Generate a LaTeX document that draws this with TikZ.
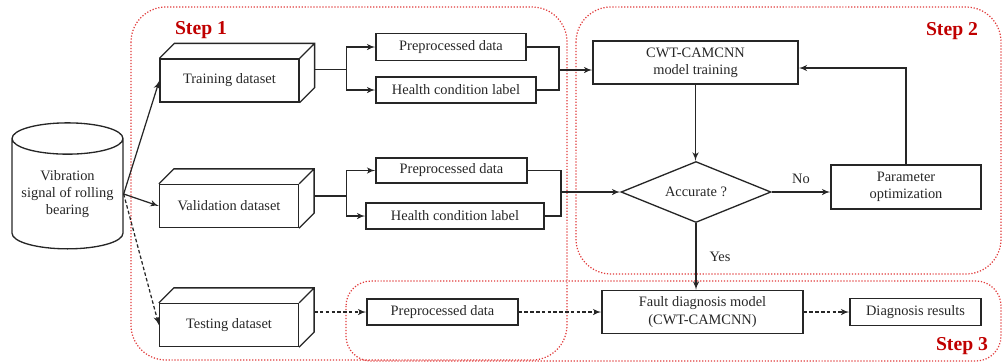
\documentclass[tikz,border=0pt]{standalone}
\usepackage{fontspec}
\setmainfont{Liberation Serif}
\usetikzlibrary{arrows}
\usetikzlibrary{shapes.geometric}
\usetikzlibrary{calc}
\definecolor{stepred}{RGB}{192,0,0}
\definecolor{regred}{RGB}{225,60,60}

\begin{document}
\begin{tikzpicture}[x=0.02cm,y=-0.02cm]
      \tikzset{
        >=latex',
        every node/.style={font=\fontsize{8.2}{9.8}\selectfont, text=black!85, align=center},
        line/.style={line width=0.7pt, draw=black!85},
        box/.style={rectangle, draw=black!85, line width=0.75pt, inner sep=0pt},
        cube/.style={box, minimum width=2.78cm, minimum height=0.86cm},
        region/.style={draw=regred, densely dotted, line width=0.7pt},
        steplabel/.style={font=\fontsize{11.2}{13}\selectfont\bfseries, text=stepred},
        dsh/.style={dash pattern=on 2pt off 1.3pt},
      }
      \useasboundingbox (0,0) rectangle (1003,363);

      \draw[region, rounded corners=0.7cm] (131,7) rectangle (567,360);
      \draw[region, rounded corners=0.7cm] (576,7) rectangle (1001,274);
      \draw[region, rounded corners=0.5cm] (346,281) rectangle (1001,361);
      \node[steplabel] (s1) at (201,30) {Step 1};
      \node[steplabel] (s2) at (952,31) {Step 2};
      \node[steplabel] (s3) at (962,346) {Step 3};

      \node[cylinder, shape border rotate=90, aspect=0.34, draw=black!85, line width=0.75pt,
        minimum width=2.22cm, minimum height=2.52cm, inner sep=0pt] (sig) at (67.5,194)
        {Vibration\\signal of rolling\\bearing};

      \node[cube] (trn) at (229.5,80.5) {Training dataset};
      \node[cube] (val) at (229,206) {Validation dataset};
      \node[cube] (tst) at (229,325) {Testing dataset};
      \foreach \c in {trn,val,tst}
        \draw[line, line width=0.75pt] (\c.north west) -- ++(15,-15) -| ($(\c.south east)+(15,-15)$) -- (\c.south east)
          (\c.north east) -- ++(15,-15);

      \node[box, minimum width=3.0cm, minimum height=0.54cm] (pre1) at (451,47) {Preprocessed data};
      \node[box, minimum width=3.2cm, minimum height=0.52cm] (hcl1) at (456,90) {Health condition label};
      \node[box, minimum width=3.02cm, minimum height=0.5cm] (pre2) at (451.5,170.5) {Preprocessed data};
      \node[box, minimum width=3.56cm, minimum height=0.52cm] (hcl2) at (455,216) {Health condition label};
      \node[box, minimum width=3.02cm, minimum height=0.52cm] (pre3) at (442.5,312) {Preprocessed data};

      \node[box, minimum width=4.1cm, minimum height=0.86cm] (cwt) at (695.5,62.5) {CWT-CAMCNN\\model training};
      \node[diamond, draw=black!85, line width=0.75pt, inner sep=0pt, aspect=2.46,
        minimum width=3.0cm, minimum height=1.22cm] (acc) at (696,192) {Accurate ?};
      \node[box, minimum width=3.0cm, minimum height=0.88cm] (par) at (906,187) {Parameter\\optimization};
      \node[box, minimum width=4.02cm, minimum height=0.86cm] (fdm) at (702.5,312) {Fault diagnosis model\\(CWT-CAMCNN)};
      \node[box, minimum width=2.62cm, minimum height=0.54cm] (res) at (915.5,312) {Diagnosis results};

      \coordinate (m1) at (559,70);
      \coordinate (m2) at (561,192);

      \draw[line, ->] (sig.east) -- (trn.west);
      \draw[line, ->] (sig.east) -- (val.west);
      \draw[line, dsh, ->] (sig.east) -- (tst.west);

      \draw[line] (trn.east) ++(15,-11) -- ++(32,0) coordinate (t1);
      \draw[line, ->] (t1) |- (pre1.west);
      \draw[line, ->] (t1) |- (hcl1.west);
      \draw[line] (pre1.east) -| (m1) |- (hcl1.east);
      \draw[line, ->] (m1) -- (m1 -| cwt.west);

      \draw[line] (val.east) ++(15,-10) -- ++(32,0) coordinate (t2);
      \draw[line, ->] (t2) |- (pre2.west);
      \draw[line, ->] (t2) |- (hcl2.west);
      \draw[line] (pre2.east) -| (m2) |- (hcl2.east);
      \draw[line, ->] (m2) -- (acc.west);

      \draw[line, dsh, ->] (tst.east) ++(15,-13) -- (pre3.west);
      \draw[line, dsh, ->] (pre3.east) -- (fdm.west);

      \draw[line, ->] (cwt.south) -- (cwt.south |- acc.north);
      \draw[line, ->] (acc.east) -- (acc.east -| par.west) node[midway, above, yshift=1pt] {No};
      \draw[line, ->] (par.north) |- ([yshift=-0.11cm]cwt.east);
      \draw[line, ->] (acc.south) -- (acc.south |- fdm.north) node[midway, right, xshift=4pt] {Yes};
      \draw[line, dsh, ->] (fdm.east) -- (res.west);
    \end{tikzpicture}
\end{document}
